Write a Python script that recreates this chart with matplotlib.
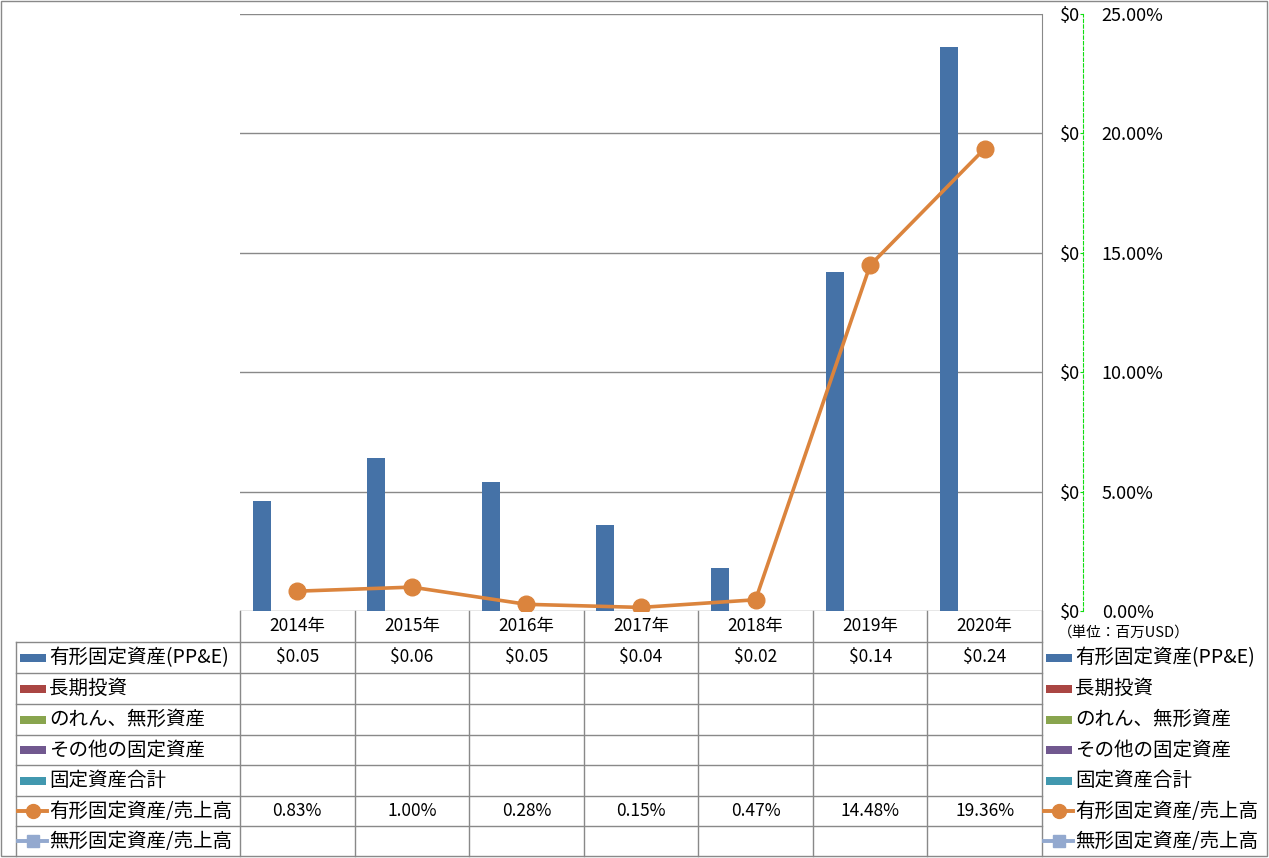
import matplotlib
matplotlib.use('Agg')
import matplotlib.pyplot as plt
import matplotlib.transforms as mtransforms
from matplotlib.lines import Line2D
from matplotlib.patches import Rectangle
import numpy as np

plt.rcParams['font.family'] = ['Noto Sans CJK JP', 'DejaVu Sans']

# data (millions USD / percent)
years = ['2014年', '2015年', '2016年', '2017年', '2018年', '2019年', '2020年']
ppe = [0.046, 0.064, 0.054, 0.036, 0.018, 0.142, 0.236]
ppe_ratio = [0.83, 1.00, 0.28, 0.15, 0.47, 14.48, 19.36]
bar_ticks = [0, 0.05, 0.10, 0.15, 0.20, 0.25]
pct_ticks = [0, 5, 10, 15, 20, 25]

series_names = ['有形固定資産(PP&E)', '長期投資', 'のれん、無形資産', 'その他の固定資産',
                '固定資産合計', '有形固定資産/売上高', '無形固定資産/売上高']
series_colors = ['#4572A7', '#AA4643', '#89A54E', '#71588F', '#4198AF', '#DB843D', '#93A9CF']
series_kind = ['bar', 'bar', 'bar', 'bar', 'bar', 'line_o', 'line_s']
row_values = [[f'${v:.2f}' for v in ppe], [], [], [], [],
              [f'{v:.2f}%' for v in ppe_ratio], []]

W, H = 1269, 858
fig = plt.figure(figsize=(W / 100, H / 100), dpi=100)
# pixel transform, origin at top-left
T = mtransforms.Affine2D().scale(1 / W, -1 / H).translate(0, 1) + fig.transFigure
grey = '#898989'
green = '#11DD11'

left, right, top, bottom = 240, 1042, 14, 611
ax = fig.add_axes([left / W, 1 - bottom / H, (right - left) / W, (bottom - top) / H])
x = np.arange(len(years))
ax.bar(x - 0.31, ppe, width=0.157, color=series_colors[0], zorder=2)
ax.set_xlim(-0.5, len(years) - 0.5)
ax.set_ylim(0, 0.25)
ax.yaxis.grid(True, color=grey, lw=1)
ax.set_axisbelow(True)
ax.set_xticks([])
for s in ['left', 'top', 'bottom']:
    ax.spines[s].set_visible(False)
ax.spines['right'].set_color(grey)

ax2 = ax.twinx()
ax2.plot(x, ppe_ratio, color=series_colors[5], lw=2.6, marker='o', ms=12, zorder=3)
ax2.set_ylim(0, 25)
ax2.set_yticks(pct_ticks)
ax2.set_yticklabels([f'{v:.2f}%' for v in pct_ticks])
for s in ['left', 'top', 'bottom']:
    ax2.spines[s].set_visible(False)
ax2.spines['right'].set_position(('outward', 29.5))
ax2.spines['right'].set_color(green)
ax2.spines['right'].set_linestyle((0, (3, 2)))
ax2.tick_params(axis='y', direction='in', length=2, color=green, pad=13.5, labelsize=13)

# primary value labels sit on the right, next to the dashed axis
ax.yaxis.tick_right()
ax.set_yticks(bar_ticks)
ax.set_yticklabels(['$0'] * len(bar_ticks))
ax.tick_params(axis='y', length=0, pad=27.5, labelsize=13)
for t in ax.yaxis.get_major_ticks():
    t.label2.set_horizontalalignment('right')

fig.text(1058 / W, 1 - 633 / H, '（単位：百万USD）', fontsize=10.5, va='center', ha='left')

# outer frame
fig.add_artist(Rectangle((1, 1), W - 3, H - 3, transform=T, fill=False, ec=grey, lw=1))

# data table
rows = [611, 642, 673, 704, 735, 765, 796, 826, 856]
cols = np.linspace(left, right, len(years) + 1)
for yy in rows[1:-1]:
    fig.add_artist(Line2D([16, right], [yy, yy], transform=T, color=grey, lw=1))
for cx in cols:
    fig.add_artist(Line2D([cx, cx], [bottom, rows[-1]], transform=T, color=grey, lw=1))
fig.add_artist(Line2D([16, 16], [rows[1], rows[-1]], transform=T, color=grey, lw=1))

bt = mtransforms.blended_transform_factory(ax.transData, T)
for i, yr in enumerate(years):
    fig.text(x[i], (rows[0] + rows[1]) / 2, yr, transform=bt, ha='center', va='center', fontsize=12.5)

for r, (name, col, kind, vals) in enumerate(zip(series_names, series_colors, series_kind, row_values)):
    yc = (rows[r + 1] + rows[r + 2]) / 2
    for i, v in enumerate(vals):
        fig.text(x[i], yc, v, transform=bt, ha='center', va='center', fontsize=12.5)
    for kx in (18, 1044):
        if kind == 'bar':
            fig.add_artist(Rectangle((kx + 2, yc - 4), 26, 8, transform=T, color=col, lw=0))
        else:
            mk = 'o' if kind == 'line_o' else 's'
            fig.add_artist(Line2D([kx, kx + 29], [yc, yc], transform=T, color=col, lw=2.8))
            fig.add_artist(Line2D([kx + 14.5], [yc], transform=T, color=col, marker=mk,
                                  ms=10 if mk == 'o' else 9, lw=0))
        fig.text(kx + 31, yc, name, transform=T, ha='left', va='center', fontsize=14)

fig.savefig('out.png', dpi=100)
